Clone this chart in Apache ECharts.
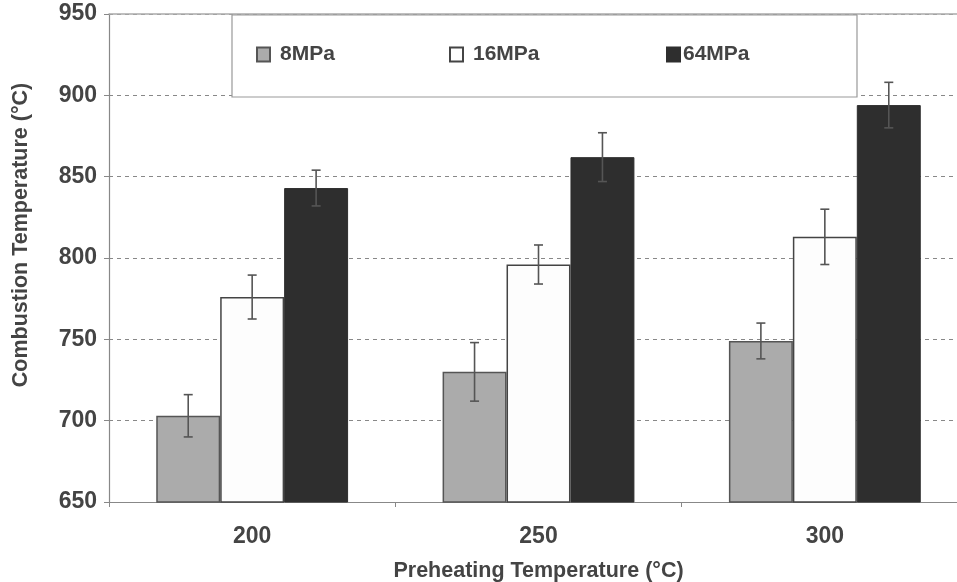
<!DOCTYPE html>
<html>
<head>
<meta charset="utf-8">
<script src="https://cdn.jsdelivr.net/npm/echarts@6/dist/echarts.min.js"></script>
<style>
  html, body { margin: 0; padding: 0; background: #fff; }
  #chart { width: 957px; height: 582px; }
</style>
</head>
<body>
<div id="chart"></div>
<script>
// data
const categories = ['200', '250', '300'];
const seriesNames = ['8MPa', '16MPa', '64MPa'];
const mean8 = [703, 730, 749];
const mean16 = [776, 796, 813];
const mean64 = [843, 862, 894];
const err8 = [13, 18, 11];
const err16 = [13.5, 12, 17];
const err64 = [11, 15, 14];

const textColor = '#444';
const fontFamily = 'Liberation Sans, Arial, sans-serif';
const gapPct = 0.33;

const barStyles = [
  { color: '#ababab', borderColor: '#555', borderWidth: 1.5 },
  { color: '#fdfdfd', borderColor: '#444', borderWidth: 1.5 },
  { color: '#2e2e2e', borderColor: '#2e2e2e', borderWidth: 1 }
];

const means = [mean8, mean16, mean64];
const errs = [err8, err16, err64];

function errorSeries(k) {
  const data = means[k].map((m, i) => [i, m - errs[k][i], m + errs[k][i]]);
  return {
    type: 'custom',
    name: seriesNames[k] + '-err',
    z: 5,
    data: data,
    renderItem(params, api) {
      const idx = api.value(0);
      const lo = api.coord([idx, api.value(1)]);
      const hi = api.coord([idx, api.value(2)]);
      const cw = api.size([1, 0])[0];
      const bw = cw * (1 - gapPct) / 3;
      const x = lo[0] + (k - 1) * bw;
      const cap = 4.5;
      const style = { stroke: '#555', lineWidth: 1.6 };
      return {
        type: 'group',
        children: [
          { type: 'line', shape: { x1: x, y1: lo[1], x2: x, y2: hi[1] }, style },
          { type: 'line', shape: { x1: x - cap, y1: hi[1], x2: x + cap, y2: hi[1] }, style },
          { type: 'line', shape: { x1: x - cap, y1: lo[1], x2: x + cap, y2: lo[1] }, style }
        ]
      };
    }
  };
}

const legendLeft = [256, 449, 666];

const chart = echarts.init(document.getElementById('chart'));
chart.setOption({
  animation: false,
  backgroundColor: '#fff',
  textStyle: { fontFamily: fontFamily },
  grid: { left: 109, top: 14, bottom: 80, right: -11, containLabel: false, outerBoundsMode: 'none' },
  legend: seriesNames.map((n, k) => ({
    data: [n],
    left: legendLeft[k],
    top: 44,
    padding: 0,
    icon: 'rect',
    itemWidth: 13,
    itemHeight: 14,
    itemGap: 0,
    selectedMode: false,
    textStyle: { color: textColor, fontSize: 21, fontWeight: 'bold', fontFamily: fontFamily, padding: [0, 0, 0, k === 2 ? -2 : 5] }
  })),
  graphic: [{
    type: 'rect',
    shape: { x: 232, y: 15, width: 625, height: 82 },
    style: { fill: '#fff', stroke: '#999', lineWidth: 1.2 },
    z: 1
  }],
  xAxis: [{
    type: 'category',
    data: categories,
    axisLine: { lineStyle: { color: '#888', width: 1.2 } },
    axisTick: { show: true, length: 5, lineStyle: { color: '#888' } },
    axisLabel: { color: textColor, fontSize: 23, fontWeight: 'bold', margin: 23 },
    name: 'Preheating Temperature (°C)',
    nameLocation: 'middle',
    nameGap: 58,
    nameTextStyle: { color: textColor, fontSize: 21.5, fontWeight: 'bold' }
  }, {
    type: 'category',
    data: categories,
    position: 'top',
    axisLine: { show: true, lineStyle: { color: '#aaa', width: 1.5 } },
    axisTick: { show: false },
    axisLabel: { show: false }
  }],
  yAxis: {
    type: 'value',
    min: 650,
    max: 950,
    interval: 50,
    axisLine: { show: true, lineStyle: { color: '#888', width: 1.2 } },
    axisTick: { show: true, length: 5, lineStyle: { color: '#888' } },
    axisLabel: { color: textColor, fontSize: 23, fontWeight: 'bold', margin: 12 },
    splitLine: { lineStyle: { color: '#888', type: [4, 4], width: 1 } },
    name: 'Combustion Temperature (°C)',
    nameLocation: 'middle',
    nameGap: 77,
    nameTextStyle: { color: textColor, fontSize: 21.5, fontWeight: 'bold', padding: [0, 0, 0, 46] }
  },
  series: [
    ...seriesNames.map((n, k) => ({
      type: 'bar',
      name: n,
      data: means[k],
      barGap: '0%',
      barCategoryGap: (gapPct * 100) + '%',
      itemStyle: barStyles[k],
      z: 3
    })),
    errorSeries(0), errorSeries(1), errorSeries(2)
  ]
});
</script>
</body>
</html>
